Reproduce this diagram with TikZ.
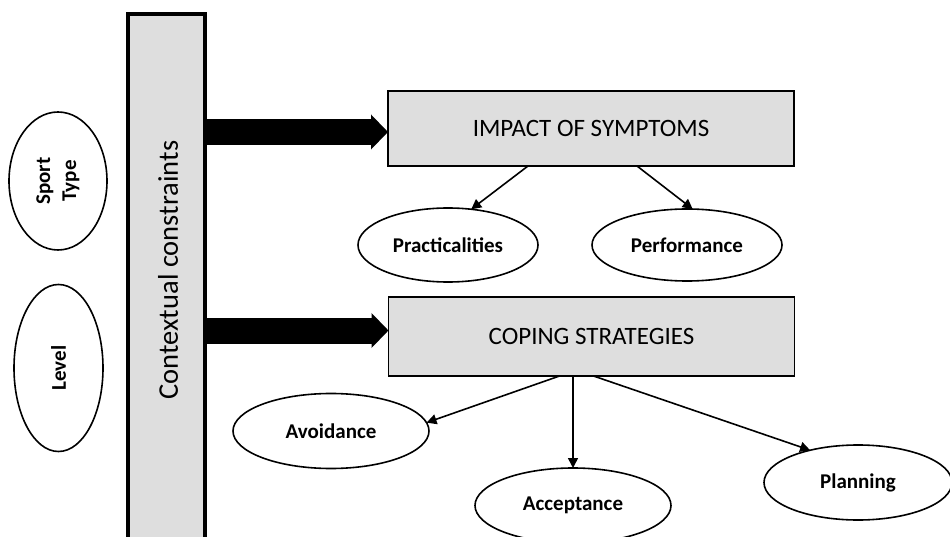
\documentclass[tikz,border=0pt]{standalone}
\usepackage{fontspec}
\setmainfont{Carlito}
\usetikzlibrary{shapes.geometric,arrows.meta}
\definecolor{boxgray}{HTML}{DEDEDE}
\tikzset{
  every node/.style={inner sep=0pt, outer sep=0pt},
  oval/.style={draw, ellipse, line width=1.6pt, fill=white, font=\fontsize{21}{26}\selectfont\bfseries},
  mainbox/.style={draw, rectangle, line width=1.6pt, fill=boxgray, font=\fontsize{25}{29}\selectfont},
  conn/.style={line width=1.6pt, -{Triangle[length=10pt,width=10pt]}},
  bigarrow/.style={line width=26pt, -{Triangle[length=17pt,width=34pt]}}
}
\begin{document}
\begin{tikzpicture}[x=1pt,y=-1pt]
\useasboundingbox (0,0) rectangle (950,537);
% contextual bar
\node[draw, line width=4pt, fill=boxgray, minimum width=77pt, minimum height=530pt] (ctx) at (166.5,279) {};
\node[font=\fontsize{28.5}{31}\selectfont] (ctxlabel) at (168,270) {\rotatebox{90}{Contextual constraints}};
% left ellipses
\node[oval, minimum width=98pt, minimum height=138pt] (sport) at (58,181) {\rotatebox{90}{\begin{tabular}{@{}c@{}}Sport\\Type\end{tabular}}};
\node[oval, minimum width=89pt, minimum height=167pt] (level) at (58.5,368) {\rotatebox{90}{Level}};
% main boxes
\node[mainbox, minimum width=406pt, minimum height=75pt] (imp) at (591,128.5) {IMPACT OF SYMPTOMS};
\node[mainbox, minimum width=406pt, minimum height=79pt] (cop) at (591.5,336.5) {COPING STRATEGIES};
% outcome ellipses
\node[oval, minimum width=180pt, minimum height=74pt] (prac) at (448,245) {Practicalities};
\node[oval, minimum width=190pt, minimum height=72pt] (perf) at (687,245) {Performance};
\node[oval, minimum width=196pt, minimum height=75pt] (avoid) at (331,431) {Avoidance};
\node[oval, minimum width=196pt, minimum height=75pt] (acc) at (573,505.5) {Acceptance};
\node[oval, minimum width=188pt, minimum height=75pt] (plan) at (858,482.5) {Planning};
% big arrows
\draw[bigarrow] (ctx.east |- 0,132) -- (imp.west |- 0,132);
\draw[bigarrow] (ctx.east |- 0,330.5) -- (cop.west |- 0,330.5);
% connectors
\draw[conn] ([xshift=-63pt]imp.south) -- (prac.57);
\draw[conn] ([xshift=46pt]imp.south) -- (perf.81);
\draw[conn] ([xshift=-32pt]cop.south) -- (avoid.5);
\draw[conn] (cop.south -| acc.north) -- (acc.north);
\draw[conn] ([xshift=2pt]cop.south) -- (plan.146);
\end{tikzpicture}
\end{document}
